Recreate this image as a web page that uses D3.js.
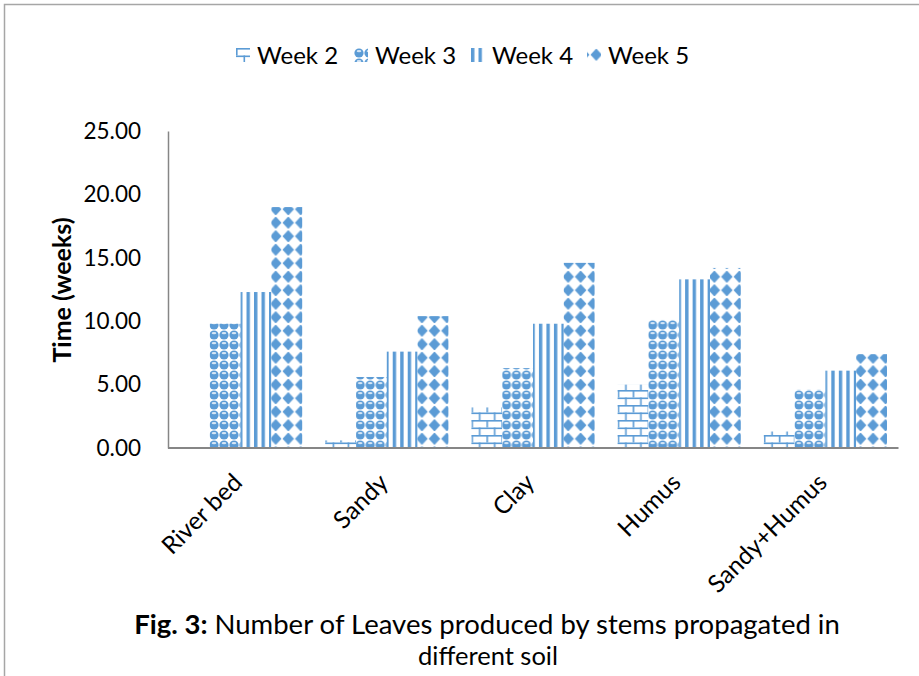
<!DOCTYPE html>
<html>
<head>
<meta charset="utf-8">
<script src="https://cdn.jsdelivr.net/npm/d3@7"></script>
<style>
  html, body { margin: 0; padding: 0; background: #fff; }
  svg { display: block; }
  text { font-family: Lato, "Open Sans", sans-serif; fill: #000; }
</style>
</head>
<body>
<script>
const categories = ["River bed", "Sandy", "Clay", "Humus", "Sandy+Humus"];
const seriesNames = ["Week 2", "Week 3", "Week 4", "Week 5"];
const week2 = [0, 0.6, 3.2, 5.0, 1.3];
const week3 = [9.8, 5.6, 6.3, 10.1, 4.6];
const week4 = [12.3, 7.6, 9.8, 13.3, 6.1];
const week5 = [19.0, 10.4, 14.6, 14.2, 7.4];
const yTicks = [0, 5, 10, 15, 20, 25];
const yTitle = "Time (weeks)";
const captionBold = "Fig. 3:";
const captionRest = " Number of Leaves produced by stems propagated in";
const captionLine2 = "different soil";

const seriesValues = [week2, week3, week4, week5];
const BLUE = "#5b9bd5";
const W = 919, H = 676;

const svg = d3.select("body").append("svg").attr("width", W).attr("height", H);
const defs = svg.append("defs");

// Week 2: bricks
const pBrick = defs.append("pattern").attr("id", "p0").attr("patternUnits", "userSpaceOnUse")
  .attr("width", 15).attr("height", 15);
pBrick.append("rect").attr("width", 15).attr("height", 15).attr("fill", "#fff");
pBrick.append("rect").attr("x", 0).attr("y", 0).attr("width", 15).attr("height", 1.6).attr("fill", BLUE);
pBrick.append("rect").attr("x", 0).attr("y", 7.5).attr("width", 15).attr("height", 1.6).attr("fill", BLUE);
pBrick.append("rect").attr("x", 0).attr("y", 0).attr("width", 1.6).attr("height", 7.5).attr("fill", BLUE);
pBrick.append("rect").attr("x", 7.5).attr("y", 7.5).attr("width", 1.6).attr("height", 7.5).attr("fill", BLUE);

// Week 3: spheres
const pSph = defs.append("pattern").attr("id", "p1").attr("patternUnits", "userSpaceOnUse")
  .attr("width", 10).attr("height", 10);
pSph.append("rect").attr("width", 10).attr("height", 10).attr("fill", "#fff");
pSph.append("circle").attr("cx", 5).attr("cy", 5).attr("r", 4.6).attr("fill", BLUE);
pSph.append("ellipse").attr("cx", 5).attr("cy", 3.2).attr("rx", 2.3).attr("ry", 1.1).attr("fill", "#d6e6f5");

// Week 4: vertical stripes
const pStr = defs.append("pattern").attr("id", "p2").attr("patternUnits", "userSpaceOnUse")
  .attr("width", 7.5).attr("height", 10);
pStr.append("rect").attr("width", 7.5).attr("height", 10).attr("fill", "#fff");
pStr.append("rect").attr("x", 0).attr("y", 0).attr("width", 3.4).attr("height", 10).attr("fill", BLUE);

// Week 5: diamonds on a square grid (rotated checkerboard look)
const PW = 12.5, PH = 13.5;
const pDia = defs.append("pattern").attr("id", "p3").attr("patternUnits", "userSpaceOnUse")
  .attr("x", 3).attr("width", PW).attr("height", PH);
pDia.append("rect").attr("width", PW).attr("height", PH).attr("fill", "#fff");
const dia = (cx, cy, rx, ry) => `M${cx},${cy - ry}L${cx + rx},${cy}L${cx},${cy + ry}L${cx - rx},${cy}Z`;
pDia.append("path").attr("d", dia(PW / 2, PH / 2, 5.4, 5.8)).attr("fill", BLUE)
  .attr("stroke", BLUE).attr("stroke-width", 0.8).attr("stroke-linejoin", "round");

// Border
svg.append("path").attr("d", `M4.5,${H}L4.5,4.5L${W},4.5`).attr("fill", "none")
  .attr("stroke", "#a6a6a6").attr("stroke-width", 1.5);

// Scales
const y = d3.scaleLinear().domain([0, 25]).range([448, 131]);
const x0 = d3.scaleBand().domain(categories).range([167.5, 898.5]).paddingInner(0.1575).paddingOuter(0.07875);
const x1 = d3.scaleBand().domain(seriesNames).range([0, x0.bandwidth()]);

// Y axis
const yAxis = d3.axisLeft(y).tickValues(yTicks).tickFormat(d3.format(".2f")).tickSize(0).tickPadding(27);
const gy = svg.append("g").attr("transform", "translate(168,0)").call(yAxis);
gy.select(".domain").attr("stroke", "#868686").attr("stroke-width", 1.5);
gy.selectAll("text").attr("font-size", 22.5).attr("font-family", "Lato").attr("fill", "#000");

// Bars
const groups = svg.append("g").selectAll("g").data(categories).join("g")
  .attr("transform", d => `translate(${x0(d)},0)`);
groups.selectAll("rect")
  .data((c, ci) => seriesNames.map((s, si) => ({ s, si, v: seriesValues[si][ci] })))
  .join("rect")
  .attr("x", d => x1(d.s))
  .attr("y", d => y(d.v))
  .attr("width", x1.bandwidth())
  .attr("height", d => y(0) - y(d.v))
  .attr("fill", d => `url(#p${d.si})`);

// X axis
const xAxis = d3.axisBottom(x0).tickSize(0).tickPadding(0);
const gx = svg.append("g").attr("transform", "translate(0,448)").call(xAxis);
gx.select(".domain").attr("stroke", "#868686").attr("stroke-width", 2.2).attr("d", "M168,0H898.5");
gx.selectAll("text")
  .attr("font-size", 24.5).attr("font-family", "Lato").attr("fill", "#000")
  .attr("text-anchor", "end")
  .attr("dy", null).attr("y", 0)
  .attr("transform", "translate(3,36) rotate(-45)");

// Y title
svg.append("text").attr("transform", "translate(71,290) rotate(-90)")
  .attr("text-anchor", "middle").attr("font-size", 25).attr("font-weight", "bold").text(yTitle);

// Legend
const legendItems = [236, 354, 471, 587];
const lg = svg.append("g").selectAll("g").data(seriesNames).join("g")
  .attr("transform", (d, i) => `translate(${legendItems[i]},48)`);
lg.append("rect").attr("width", 14).attr("height", 14).attr("fill", (d, i) => `url(#p${i})`);
lg.append("text").attr("x", 21).attr("y", 7).attr("dy", "0.36em").attr("font-size", 24).text(d => d);

// Caption
const cap = svg.append("text").attr("x", 487).attr("y", 634).attr("text-anchor", "middle").attr("font-size", 27.5);
cap.append("tspan").attr("font-weight", "bold").text(captionBold);
cap.append("tspan").text(captionRest);
svg.append("text").attr("x", 488).attr("y", 665).attr("text-anchor", "middle").attr("font-size", 25.5).text(captionLine2);
</script>
</body>
</html>
